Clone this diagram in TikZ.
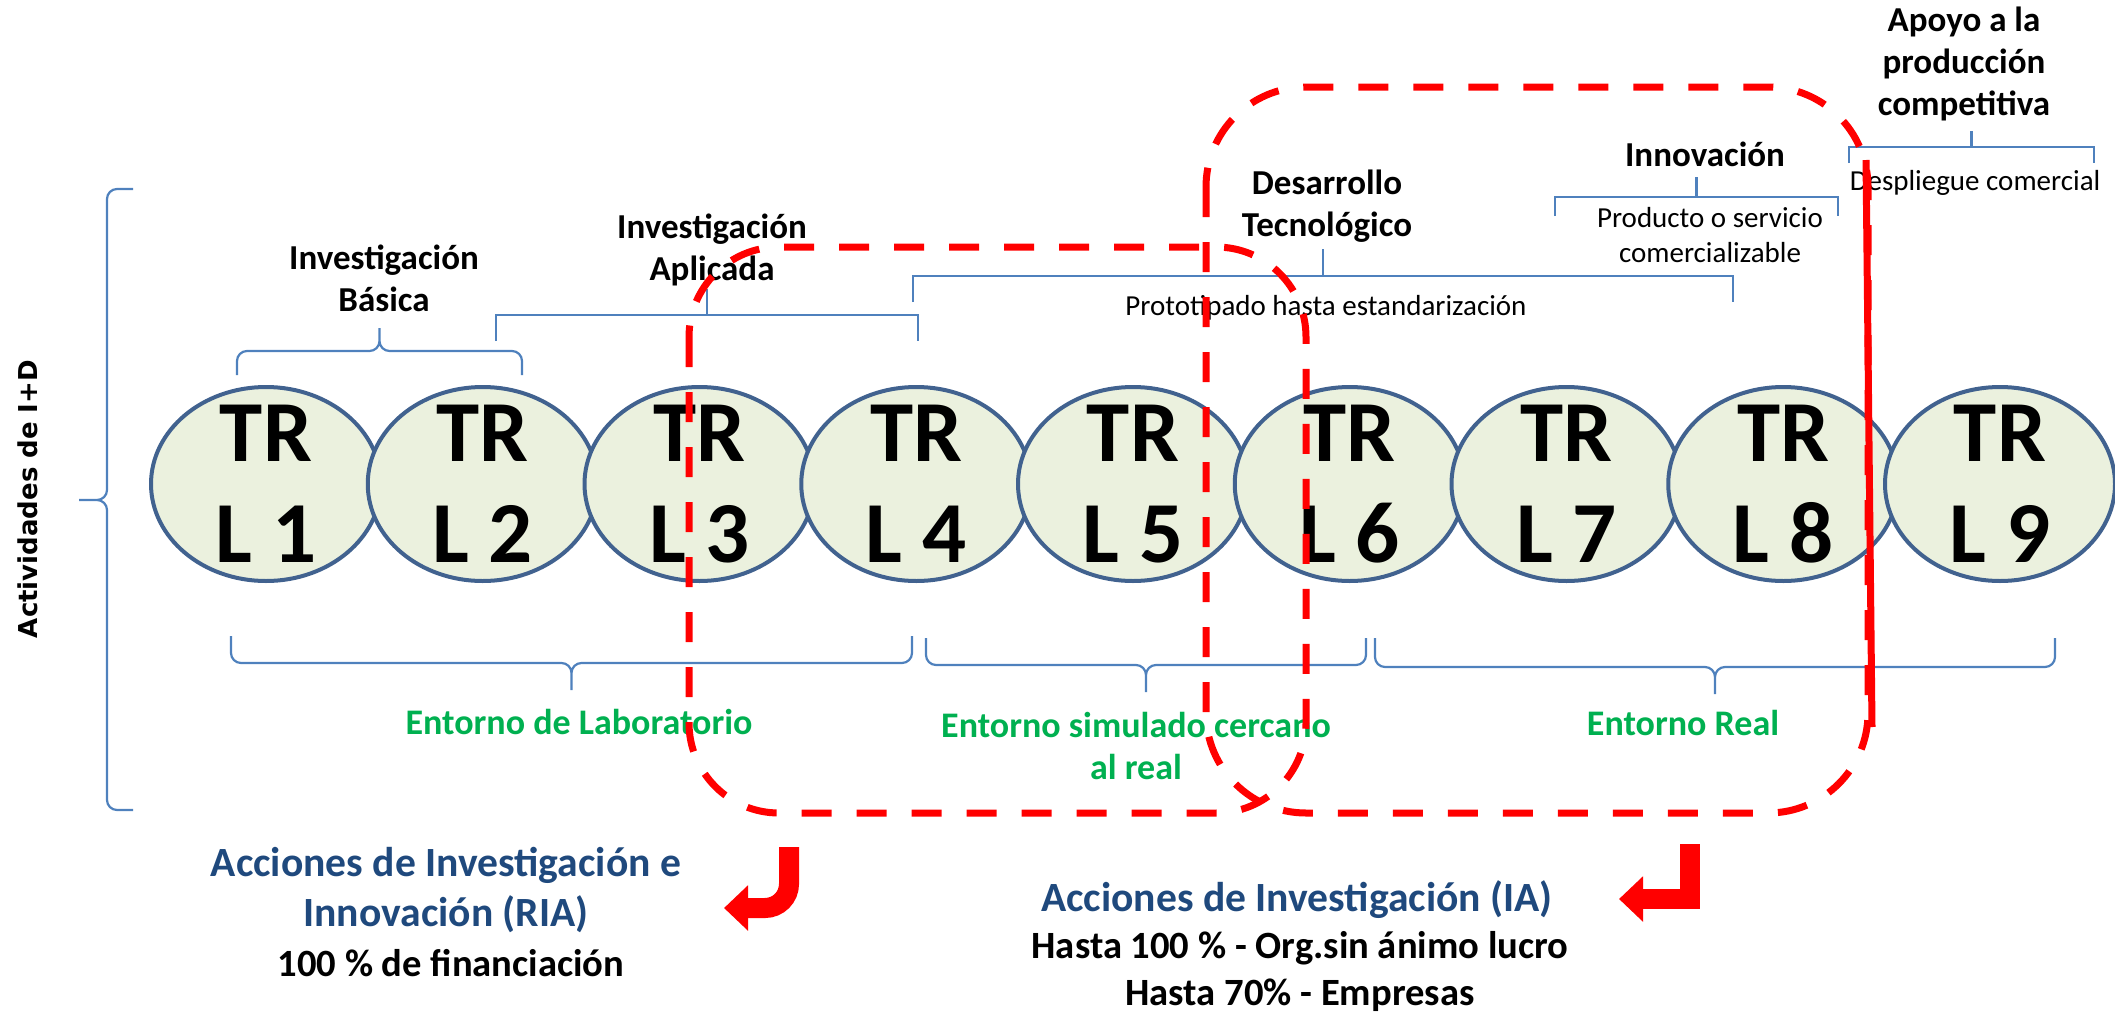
\documentclass[tikz,border=0pt]{standalone}
\usepackage{fontspec}
\setmainfont{Carlito}
\newfontfamily\verdfont{DejaVu Sans}
\usepackage{tikz}
\usetikzlibrary{arrows.meta,shapes.geometric}
\definecolor{trlfill}{HTML}{EBF1DE}
\definecolor{trledge}{HTML}{41628F}
\definecolor{bracketblue}{HTML}{4F81BD}
\definecolor{envgreen}{HTML}{00B050}
\definecolor{callblue}{HTML}{1F497D}
\definecolor{boxred}{HTML}{FF0000}
\tikzset{
  trl/.style={ellipse, draw=trledge, line width=2pt, fill=trlfill,
    minimum width=115pt, minimum height=97pt, inner sep=0pt},
  trltext/.style={font=\fontsize{43.5}{50.5}\selectfont\bfseries, align=center, inner sep=0pt},
  phase/.style={font=\fontsize{17.5}{21}\selectfont\bfseries, align=center},
  detail/.style={font=\fontsize{14.5}{17.5}\selectfont, align=center},
  env/.style={font=\fontsize{18}{21}\selectfont\bfseries, text=envgreen, align=center},
  bracket/.style={draw=bracketblue, line width=1.1pt},
  curly/.style={bracket, rounded corners=5pt},
  callbox/.style={draw=boxred, line width=3.5pt, dash pattern=on 15pt off 12.5pt},
  callarrow/.style={draw=boxred, line width=10pt, -{Triangle[length=12pt, width=22pt]}},
  calltitle/.style={font=\fontsize{20.8}{25}\selectfont\bfseries, text=callblue, align=center},
  callnote/.style={font=\fontsize{19.3}{23.5}\selectfont\bfseries, align=center}
}

\begin{document}
\begin{tikzpicture}[x=50pt, y=50pt]
  \useasboundingbox (0,0) rectangle (21.15,-10.12);

  \foreach \i in {1,...,9} {
    \node[trl] (trl\i) at ({2.66+2.1675*(\i-1)},-4.84) {};
    \node[trltext] (trltxt\i) at (trl\i) {TR\\L \i};
  }

  \node[rotate=90, font=\verdfont\fontsize{13}{16}\selectfont\bfseries] (actividades) at (0.28,-4.99) {Actividades de I+D};
  \draw[curly] (1.33,-1.89) -- (1.07,-1.89) -- (1.07,-5.00) -- (0.79,-5.00)
               (1.33,-8.10) -- (1.07,-8.10) -- (1.07,-5.00) -- (0.79,-5.00);

  \node[phase] (basica) at (3.84,-2.78) {Investigación\\Básica};
  \node[phase] (aplicada) at (7.12,-2.50) {Investigación\\Aplicada};
  \draw[bracket] (4.96,-3.41) |- (9.18,-3.15) -- (9.18,-3.41) (7.07,-3.15) -- (7.07,-2.89);

  \node[phase] (desarrollo) at (13.27,-2.06) {Desarrollo\\Tecnológico};
  \draw[bracket] (9.13,-3.02) |- (17.33,-2.76) -- (17.33,-3.02) (13.23,-2.76) -- (13.23,-2.49);
  \node[detail] (prototipado) at (13.26,-3.08) {Prototipado hasta estandarización};

  \node[phase] (innovacion) at (17.05,-1.54) {Innovación};
  \draw[bracket] (15.55,-2.16) |- (18.38,-1.97) -- (18.38,-2.16) (16.965,-1.97) -- (16.965,-1.77);
  \node[detail] (producto) at (17.10,-2.35) {Producto o servicio\\comercializable};

  \node[phase] (apoyo) at (19.64,-0.64) {Apoyo a la\\producción\\competitiva};
  \draw[bracket] (18.49,-1.63) |- (20.94,-1.47) -- (20.94,-1.63) (19.715,-1.47) -- (19.715,-1.31);
  \node[detail] (despliegue) at (19.75,-1.83) {Despliegue comercial};

  \foreach \xa/\xb/\ye/\yb/\yt in {2.37/5.22/-3.75/-3.51/-3.28, 2.31/9.12/-6.36/-6.63/-6.90,
      9.26/13.66/-6.38/-6.65/-6.92, 13.75/20.55/-6.38/-6.67/-6.94} {
    \draw[curly] (\xa,\ye) -- (\xa,\yb) -- ({(\xa+\xb)/2},\yb) -- ({(\xa+\xb)/2},\yt)
                 (\xb,\ye) -- (\xb,\yb) -- ({(\xa+\xb)/2},\yb) -- ({(\xa+\xb)/2},\yt);
  }
  \node[env] (laboratorio) at (5.79,-7.22) {Entorno de Laboratorio};
  \node[env] (simulado) at (11.36,-7.46) {Entorno simulado cercano\\al real};
  \node[env] (real) at (16.83,-7.23) {Entorno Real};

  \draw[callbox, rounded corners=45pt] (6.89,-2.47) rectangle (13.06,-8.13);
  \draw[callbox, rounded corners=50pt] (12.06,-0.87) rectangle (18.68,-8.13);
  \draw[draw=boxred, line width=3.5pt] (18.66,-1.60) -- (18.72,-7.27);

  \coordinate (riastem) at (7.89,-8.47);
  \coordinate (riatip) at (7.24,-9.08);
  \draw[callarrow, rounded corners=12pt] (riastem) |- (riatip);
  \coordinate (iastem) at (16.90,-8.44);
  \coordinate (iatip) at (16.19,-8.99);
  \draw[callarrow] (iastem) |- (iatip);

  \node[calltitle] (riatitle) at (4.46,-8.90) {Acciones de Investigación e\\Innovación (RIA)};
  \node[callnote] (riafund) at (4.51,-9.63) {100 \% de financiación};
  \node[calltitle] (iatitle) at (12.97,-9.00) {Acciones de Investigación (IA)};
  \node[callnote] (iafund) at (13.00,-9.715) {Hasta 100 \% - Org.sin ánimo lucro\\Hasta 70\% - Empresas};
\end{tikzpicture}
\end{document}
